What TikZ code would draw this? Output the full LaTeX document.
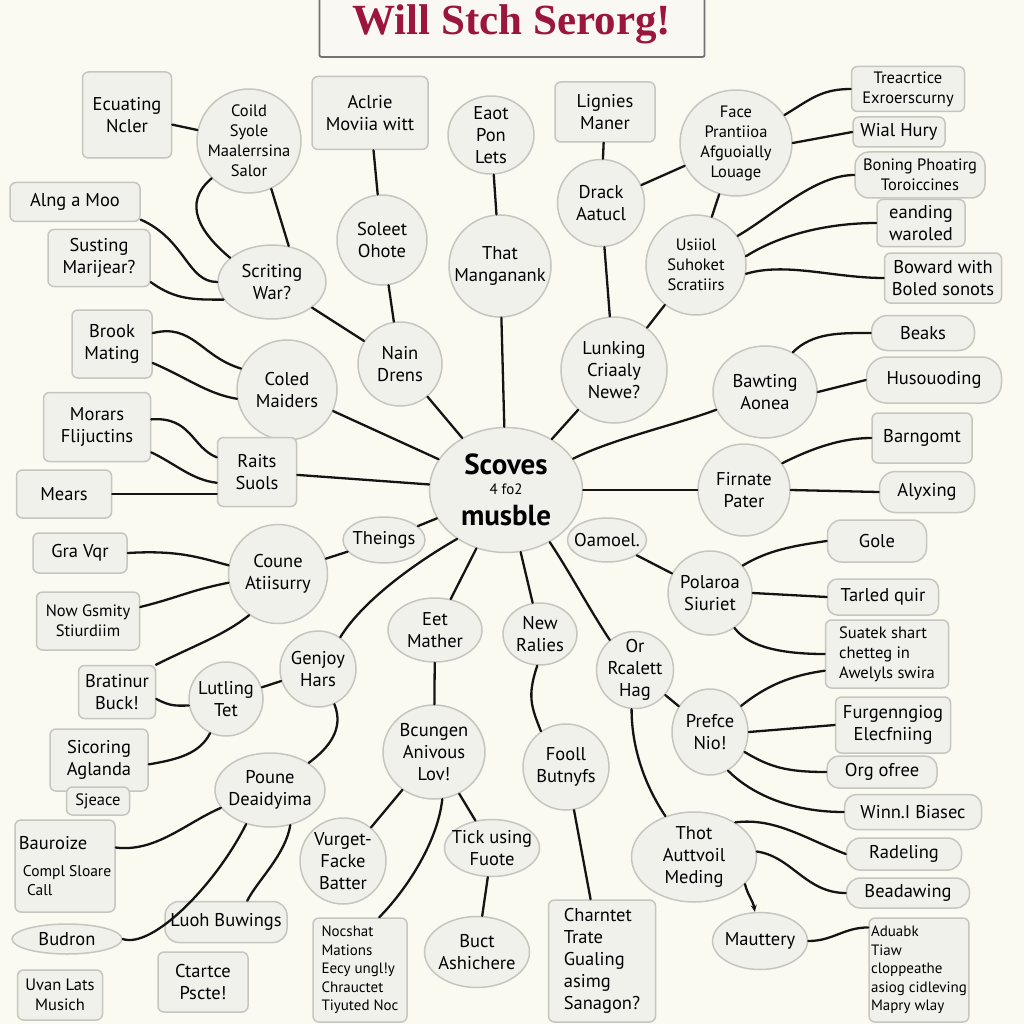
\documentclass[tikz,border=0pt]{standalone}
\usepackage{fontspec}
\setmainfont{PT Sans}
\newfontfamily\titlefont{Liberation Serif}
\usetikzlibrary{shapes.geometric,arrows.meta}
\definecolor{bgc}{RGB}{250,250,241}
\definecolor{nfill}{RGB}{241,241,236}
\definecolor{nbord}{RGB}{198,198,192}
\definecolor{ttl}{RGB}{155,22,60}
\definecolor{tfill}{RGB}{249,248,242}
\newcommand\myfA{\fontsize{18.5}{22}\selectfont}
\newcommand\myfB{\fontsize{16.5}{20}\selectfont}
\newcommand\myfC{\fontsize{15}{18.5}\selectfont}
\tikzset{
  nd/.style={draw=nbord, fill=nfill, line width=1.5pt, align=center, text=black, font=\myfA},
  cn/.style={nd, circle, inner sep=-12pt},
  en/.style={nd, ellipse, inner sep=-14pt},
  rn/.style={nd, rectangle, rounded corners=6pt, inner sep=2pt},
  link/.style={line width=2.3pt, line cap=round, line join=round, draw=black!92},
}
\begin{document}
\begin{tikzpicture}[x=1pt,y=-1pt]
\useasboundingbox (0,0) rectangle (1024,1024);
\fill[bgc] (0,0) rectangle (1024,1024);

% title
\node[rn, minimum width=385pt, minimum height=66pt, draw=black!55, fill=tfill, line width=1.8pt, rounded corners=2pt, font=\titlefont\bfseries\fontsize{43}{46}\selectfont, text=ttl] (title) at (512,24) {Will Stch Serorg!};

% upper left
\node[cn, minimum size=104pt, font=\myfB] (coild) at (249,141) {Coild\\Syole\\Maalerrsina\\Salor};
\node[rn, minimum width=89pt, minimum height=86pt] (ecu) at (127,115) {Ecuating\\Ncler};
\node[rn, minimum width=130pt, minimum height=39pt] (alng) at (75,202) {Alng a Moo};
\node[rn, minimum width=102pt, minimum height=57pt] (sust) at (99,258) {Susting\\Marijear?};
\node[en, minimum width=108pt, minimum height=74pt] (scrit) at (272,282) {Scriting\\War?};
\node[rn, minimum width=116pt, minimum height=73pt] (aclrie) at (370,113) {Aclrie\\Moviia witt};
\node[cn, minimum size=90pt] (soleet) at (382,240) {Soleet\\Ohote};
\node[en, minimum width=86pt, minimum height=78pt] (eaot) at (491,135) {Eaot\\Pon\\Lets};
\node[cn, minimum size=102pt] (that) at (500,266) {That\\Manganank};
\node[rn, minimum width=100pt, minimum height=60pt] (lignies) at (605,112) {Lignies\\Maner};
\node[cn, minimum size=87pt] (drack) at (601,203) {Drack\\Aatucl};
\node[en, minimum width=112pt, minimum height=106pt, font=\myfB] (face) at (736,143) {Face\\Prantiioa\\Afguoially\\Louage};
\node[cn, minimum size=100pt, font=\myfB] (usiol) at (696,265) {Usiiol\\Suhoket\\Scratiirs};
\node[rn, minimum width=113pt, minimum height=45pt, font=\myfB] (treac) at (908,89) {Treacrtice\\Exroerscurny};
\node[rn, minimum width=92pt, minimum height=30pt] (wial) at (899,132) {Wial Hury};
\node[rn, rounded corners=14pt, minimum width=130pt, minimum height=46pt, font=\myfB] (boning) at (920,175) {Boning Phoatirg\\Toroiccines};
\node[rn, minimum width=88pt, minimum height=47pt] (eand) at (921,223) {eanding\\waroled};
\node[rn, minimum width=117pt, minimum height=50pt] (boward) at (943,278) {Boward with\\Boled sonots};
\node[cn, minimum size=106pt] (lunk) at (614,370) {Lunking\\Criaaly\\Newe?};
\node[cn, minimum size=84pt] (nain) at (400,364) {Nain\\Drens};
\node[cn, minimum size=100pt] (coled) at (287,390) {Coled\\Maiders};
\node[rn, minimum width=80pt, minimum height=68pt] (brook) at (112,344) {Brook\\Mating};
\node[rn, minimum width=107pt, minimum height=69pt] (morars) at (97,427) {Morars\\Flijuctins};
\node[rn, minimum width=95pt, minimum height=48pt] (mears) at (64,494) {Mears};
\node[rn, minimum width=79pt, minimum height=69pt] (raits) at (257,472) {Raits\\Suols};
\node[en, minimum width=153pt, minimum height=125pt, font=\fontsize{29}{20}\selectfont\bfseries] (center) at (506,490) {Scoves\\[0pt]{\fontsize{15}{16}\selectfont\mdseries 4 fo2}\\[9pt]musble};
\node[en, minimum width=104pt, minimum height=92pt] (bawt) at (765,392) {Bawting\\Aonea};
\node[cn, minimum size=92pt] (firn) at (744,490) {Firnate\\Pater};
\node[rn, rounded corners=16pt, minimum width=103pt, minimum height=35pt] (beaks) at (923,333) {Beaks};
\node[rn, rounded corners=20pt, minimum width=135pt, minimum height=46pt] (husou) at (934,380) {Husouoding};
\node[rn, minimum width=100pt, minimum height=50pt] (barn) at (922,438) {Barngomt};
\node[rn, rounded corners=16pt, minimum width=95pt, minimum height=41pt] (alyx) at (927,492) {Alyxing};

% middle
\node[en, minimum width=82pt, minimum height=46pt] (theings) at (384,540) {Theings};
\node[en, minimum width=79pt, minimum height=44pt] (oamoel) at (607,540) {Oamoel.};
\node[cn, minimum size=99pt] (coune) at (278,574) {Coune\\Atiisurry};
\node[cn, minimum size=84pt] (polar) at (710,593) {Polaroa\\Siuriet};
\node[en, minimum width=94pt, minimum height=64pt] (eet) at (435,630) {Eet\\Mather};
\node[en, minimum width=74pt, minimum height=62pt] (newr) at (540,634) {New\\Ralies};
\node[cn, minimum size=76pt] (genj) at (318,669) {Genjoy\\Hars};
\node[cn, minimum size=74pt] (lutl) at (226,699) {Lutling\\Tet};
\node[cn, minimum size=77pt] (orrc) at (635,670) {Or\\Rcalett\\Hag};
\node[en, minimum width=76pt, minimum height=86pt] (prefc) at (710,732) {Prefce\\Nio!};
\node[en, minimum width=102pt, minimum height=94pt] (bcung) at (434,752) {Bcungen\\Anivous\\Lov!};
\node[cn, minimum size=86pt] (fooll) at (566,767) {Fooll\\Butnyfs};

% right column lower
\node[rn, rounded corners=14pt, minimum width=99pt, minimum height=42pt] (gole) at (877,541) {Gole};
\node[rn, rounded corners=10pt, minimum width=111pt, minimum height=36pt] (tarled) at (883,597) {Tarled quir};
\node[rn, minimum width=123pt, minimum height=68pt, font=\myfB, align=left] (suatek) at (887,654) {Suatek shart\\chetteg in\\Awelyls swira};
\node[rn, minimum width=115pt, minimum height=56pt] (furg) at (893,725) {Furgenngiog\\Elecfniing};
\node[rn, rounded corners=12pt, minimum width=110pt, minimum height=32pt] (org) at (882,772) {Org ofree};
\node[rn, rounded corners=12pt, minimum width=137pt, minimum height=35pt] (winn) at (913,812) {Winn.I Biasec};
\node[rn, rounded corners=14pt, minimum width=115pt, minimum height=32pt] (radel) at (904,854) {Radeling};
\node[rn, rounded corners=14pt, minimum width=123pt, minimum height=30pt] (bead) at (908,893) {Beadawing};
\node[rn, minimum width=98pt, minimum height=104pt, font=\myfC, align=left] (aduabk) at (919,970) {Aduabk\\Tiaw\\cloppeathe\\asiog cidleving\\Mapry wlay};
\node[en, minimum width=125pt, minimum height=90pt] (thot) at (694,857) {Thot\\Auttvoil\\Meding};
\node[en, minimum width=95pt, minimum height=57pt] (maut) at (760,941) {Mauttery};

% left column lower
\node[rn, minimum width=94pt, minimum height=40pt] (gravqr) at (80,553) {Gra Vqr};
\node[rn, minimum width=103pt, minimum height=58pt, font=\myfB] (nowg) at (88,621) {Now Gsmity\\Stiurdiim};
\node[rn, minimum width=77pt, minimum height=53pt] (brat) at (117,692) {Bratinur\\Buck!};
\node[rn, minimum width=98pt, minimum height=62pt] (sicor) at (99,760) {Sicoring\\Aglanda};
\node[rn, minimum width=63pt, minimum height=28pt, font=\myfB] (sjeace) at (98,801) {Sjeace};
\node[rn, minimum width=100pt, minimum height=92pt, font=\fontsize{15.5}{19}\selectfont, align=left] (bauro) at (65,866) {{\myfA Bauroize}\\[8pt]\ Compl Sloare\\\ \ Call};
\node[en, minimum width=110pt, minimum height=30pt] (budron) at (67,939) {Budron};
\node[rn, minimum width=85pt, minimum height=50pt, font=\myfB] (uvan) at (60,995) {Uvan Lats\\Musich};
\node[en, minimum width=110pt, minimum height=74pt] (poune) at (270,790) {Poune\\Deaidyima};
\node[rn, rounded corners=14pt, minimum width=122pt, minimum height=41pt] (luoh) at (226,922) {Luoh Buwings};
\node[rn, minimum width=90pt, minimum height=60pt] (ctart) at (203,982) {Ctartce\\Pscte!};
\node[cn, minimum size=86pt] (vurg) at (343,861) {Vurget-\\Facke\\Batter};
\node[rn, minimum width=94pt, minimum height=104pt, font=\myfC, align=left] (nocs) at (360,970) {Nocshat\\Mations\\Eecy ungl!y\\Chrauctet\\Tiyuted Noc};
\node[en, minimum width=95pt, minimum height=57pt] (tick) at (492,848) {Tick using\\Fuote};
\node[en, minimum width=105pt, minimum height=71pt] (buct) at (477,952) {Buct\\Ashichere};
\node[rn, minimum width=107pt, minimum height=122pt, align=left] (charn) at (602,961) {Charntet\\Trate\\Gualing\\asimg\\Sanagon?};

% connectors
\draw[link] (ecu) -- (coild);
\draw[link] (coild.225) .. controls +(-30,25) and +(-30,-25) .. (scrit.150);
\draw[link] (coild.295) -- (scrit.65);
\draw[link] (alng.-15) .. controls +(45,20) and +(-30,0) .. (scrit.west);
\draw[link] (sust.-25) .. controls +(25,18) and +(-30,0) .. (scrit.200);
\draw[link] (scrit) -- (nain);
\draw[link] (aclrie) -- (soleet);
\draw[link] (soleet) -- (nain);
\draw[link] (eaot) -- (that);
\draw[link] (that) -- (center);
\draw[link] (nain) -- (center);
\draw[link] (lignies) -- (drack);
\draw[link] (drack) -- (lunk);
\draw[link] (drack) -- (face);
\draw[link] (face) -- (usiol);
\draw[link] (face.30) .. controls +(25,-15) and +(-30,0) .. (treac.west);
\draw[link] (face.east) -- (wial.west);
\draw[link] (usiol.35) .. controls +(35,-20) and +(-40,0) .. (boning.west);
\draw[link] (usiol.10) .. controls +(40,-25) and +(-40,0) .. (eand.west);
\draw[link] (usiol.-10) .. controls +(40,-12) and +(-50,0) .. (boward.west);
\draw[link] (usiol) -- (lunk);
\draw[link] (lunk) -- (center);
\draw[link] (bawt.55) .. controls +(20,-20) and +(-30,0) .. (beaks.west);
\draw[link] (bawt.east) -- (husou.west);
\draw[link] (bawt.200) .. controls +(-40,15) and +(40,-20) .. (center.25);
\draw[link] (firn.35) .. controls +(30,-15) and +(-30,0) .. (barn.west);
\draw[link] (firn.east) -- (alyx.west);
\draw[link] (firn.west) -- (center.east);
\draw[link] (brook.15) .. controls +(40,-10) and +(-40,-12) .. (coled.155);
\draw[link] (brook.-25) .. controls +(35,15) and +(-30,-5) .. (coled.190);
\draw[link] (coled) -- (center);
\draw[link] (morars.8) .. controls +(40,-3) and +(-25,-10) .. (raits.160);
\draw[link] (morars.-25) .. controls +(25,12) and +(-25,-3) .. (raits.195);
\draw[link] (mears.east) -- (raits.west |- mears.east);
\draw[link] (raits) -- (center);
\draw[link] (theings) -- (center);
\draw[link] (theings) -- (coune);
\draw[link] (oamoel) -- (polar);
\draw[link] (gravqr.east) .. controls +(50,-3) and +(-30,-8) .. (coune.170);
\draw[link] (nowg.15) .. controls +(40,-10) and +(-40,8) .. (coune.190);
\draw[link] (brat.35) .. controls +(40,-20) and +(-25,20) .. (coune.235);
\draw[link] (brat.-10) .. controls +(15,8) and +(-12,0) .. (lutl.190);
\draw[link] (lutl) -- (genj);
\draw[link] (sicor.-5) .. controls +(30,-5) and +(-10,20) .. (lutl.245);
\draw[link] (genj.55) .. controls +(25,-40) and +(-35,20) .. (center.225);
\draw[link] (genj.-65) .. controls +(10,25) and +(20,-15) .. (poune.35);
\draw[link] (center) -- (eet);
\draw[link] (center) -- (newr);
\draw[link] (center.-50) .. controls +(20,30) and +(-20,-30) .. (orrc.130);
\draw[link] (eet) -- (bcung);
\draw[link] (newr.265) .. controls +(-10,30) and +(-10,-25) .. (fooll.125);
\draw[link] (orrc.-95) .. controls +(0,40) and +(-20,-30) .. (thot.125);
\draw[link] (orrc) -- (prefc);
\draw[link] (polar.40) .. controls +(25,-15) and +(-35,5) .. (gole.west);
\draw[link] (polar.east) -- (tarled.west);
\draw[link] (polar.-55) .. controls +(15,20) and +(-40,0) .. (suatek.west);
\draw[link] (prefc.40) .. controls +(25,-20) and +(-35,5) .. (suatek.195);
\draw[link] (prefc.east) -- (furg.west);
\draw[link] (prefc.-30) .. controls +(25,15) and +(-40,0) .. (org.west);
\draw[link] (prefc.-65) .. controls +(25,25) and +(-50,0) .. (winn.west);
\draw[link] (thot.40) .. controls +(40,-5) and +(-40,-15) .. (radel.west);
\draw[link] (thot.5) .. controls +(35,5) and +(-40,0) .. (bead.west);
\draw[link, -{Stealth[length=7pt,width=6pt]}] (thot.-28) .. controls +(3,12) and +(-2,-12) .. (maut.100);
\draw[link] (maut.east) .. controls +(25,0) and +(-25,0) .. (aduabk.140);
\draw[link] (fooll) -- (charn);
\draw[link] (bcung) -- (vurg);
\draw[link] (bcung.-80) .. controls +(-5,45) and +(25,-25) .. (nocs.70);
\draw[link] (bcung) -- (tick);
\draw[link] (tick) -- (buct);
\draw[link] (poune.200) .. controls +(-35,15) and +(40,5) .. (bauro.20);
\draw[link] (poune.235) .. controls +(-30,60) and +(30,10) .. (budron.east);
\draw[link] (poune.-60) .. controls +(-5,30) and +(10,-20) .. (luoh.45);
\end{tikzpicture}
\end{document}
